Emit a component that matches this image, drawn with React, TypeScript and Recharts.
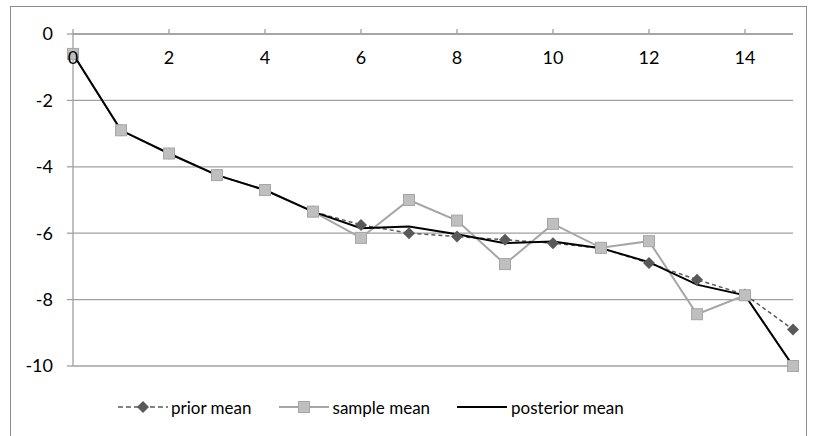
import { LineChart, Line, XAxis, YAxis, CartesianGrid } from 'recharts'

const steps = [0, 1, 2, 3, 4, 5, 6, 7, 8, 9, 10, 11, 12, 13, 14, 15]
const priorMean = [-0.6, -2.9, -3.6, -4.25, -4.7, -5.35, -5.75, -6.0, -6.1, -6.2, -6.3, -6.45, -6.9, -7.4, -7.85, -8.9]
const sampleMean = [-0.6, -2.9, -3.6, -4.25, -4.7, -5.35, -6.14, -5.0, -5.62, -6.93, -5.72, -6.44, -6.24, -8.44, -7.87, -10.0]
const posteriorMean = [-0.6, -2.9, -3.6, -4.25, -4.7, -5.35, -5.85, -5.8, -6.03, -6.3, -6.25, -6.45, -6.87, -7.55, -7.87, -10.0]
const xTicks = [0, 2, 4, 6, 8, 10, 12, 14]
const yTicks = [0, -2, -4, -6, -8, -10]

const data = steps.map((s, i) => ({
  step: s,
  prior: priorMean[i],
  sample: sampleMean[i],
  posterior: posteriorMean[i],
}))

const FONT = 'Lato, "Open Sans", sans-serif'
const PRIOR = '#595959'
const SAMPLE_LINE = '#a6a6a6'
const SAMPLE_FILL = '#bfbfbf'
const AXIS = '#a0a0a0'

const Diamond = (props: any) => {
  const { cx, cy, index } = props
  if (cx == null || cy == null) return <g key={index} />
  return (
    <polygon
      key={index}
      points={`${cx},${cy - 6} ${cx + 6},${cy} ${cx},${cy + 6} ${cx - 6},${cy}`}
      fill={PRIOR}
    />
  )
}

const Square = (props: any) => {
  const { cx, cy, index } = props
  if (cx == null || cy == null) return <g key={index} />
  return (
    <rect
      key={index}
      x={cx - 5.5}
      y={cy - 5.5}
      width={11}
      height={11}
      fill={SAMPLE_FILL}
      stroke={SAMPLE_LINE}
      strokeWidth={1}
    />
  )
}

const XTick = (props: any) => {
  const { x, y, payload } = props
  return (
    <text x={x} y={y + 31} textAnchor="middle" dy="0.35em" fontSize={18} fill="#000" fontFamily={FONT}>
      {payload.value}
    </text>
  )
}

function LegendBox() {
  return (
    <div
      style={{
        position: 'absolute',
        left: 107,
        top: 389,
        height: 22,
        display: 'flex',
        alignItems: 'center',
        fontFamily: FONT,
        fontSize: 17,
        color: '#000',
        whiteSpace: 'nowrap',
      }}
    >
      <svg width={50} height={14}>
        <line x1={0} y1={7} x2={50} y2={7} stroke={PRIOR} strokeWidth={1.5} strokeDasharray="5 3" />
        <polygon points="25,1 31,7 25,13 19,7" fill={PRIOR} />
      </svg>
      <span style={{ marginLeft: 3, marginRight: 27 }}>prior mean</span>
      <svg width={50} height={14}>
        <line x1={0} y1={7} x2={50} y2={7} stroke={SAMPLE_LINE} strokeWidth={2} />
        <rect x={19.5} y={1.5} width={11} height={11} fill={SAMPLE_FILL} stroke={SAMPLE_LINE} />
      </svg>
      <span style={{ marginLeft: 4, marginRight: 27 }}>sample mean</span>
      <svg width={50} height={14}>
        <line x1={0} y1={7} x2={50} y2={7} stroke="#000" strokeWidth={2} />
      </svg>
      <span style={{ marginLeft: 4 }}>posterior mean</span>
    </div>
  )
}

export default function App() {
  return (
    <div
      style={{
        position: 'absolute',
        left: 10,
        top: 6,
        width: 795,
        height: 440,
        border: '1px solid #8c8c8c',
        background: '#fff',
      }}
    >
      <LineChart width={795} height={440} data={data} margin={{ top: 0, right: 13, bottom: 81, left: 0 }}>
        <CartesianGrid horizontal vertical={false} stroke={AXIS} strokeWidth={1.3} />
        <XAxis
          dataKey="step"
          type="number"
          orientation="top"
          domain={[0, 15]}
          ticks={xTicks}
          height={27}
          tickSize={5}
          tickMargin={2}
          tick={<XTick />}
          axisLine={{ stroke: AXIS, strokeWidth: 1.3 }}
          tickLine={{ stroke: AXIS, strokeWidth: 1.3 }}
          interval={0}
        />
        <YAxis
          type="number"
          domain={[-10, 0]}
          ticks={yTicks}
          width={62}
          tickSize={6}
          tickMargin={14}
          tick={{ fontSize: 18, fill: '#000', fontFamily: FONT }}
          axisLine={{ stroke: AXIS, strokeWidth: 1.3 }}
          tickLine={{ stroke: AXIS, strokeWidth: 1.3 }}
          interval={0}
        />
        <Line
          dataKey="prior"
          stroke={PRIOR}
          strokeWidth={1.5}
          strokeDasharray="4 3"
          dot={<Diamond />}
          activeDot={false}
          isAnimationActive={false}
        />
        <Line
          dataKey="sample"
          stroke={SAMPLE_LINE}
          strokeWidth={2}
          dot={<Square />}
          activeDot={false}
          isAnimationActive={false}
        />
        <Line
          dataKey="posterior"
          stroke="#000"
          strokeWidth={2}
          dot={false}
          activeDot={false}
          isAnimationActive={false}
        />
      </LineChart>
      <LegendBox />
    </div>
  )
}
